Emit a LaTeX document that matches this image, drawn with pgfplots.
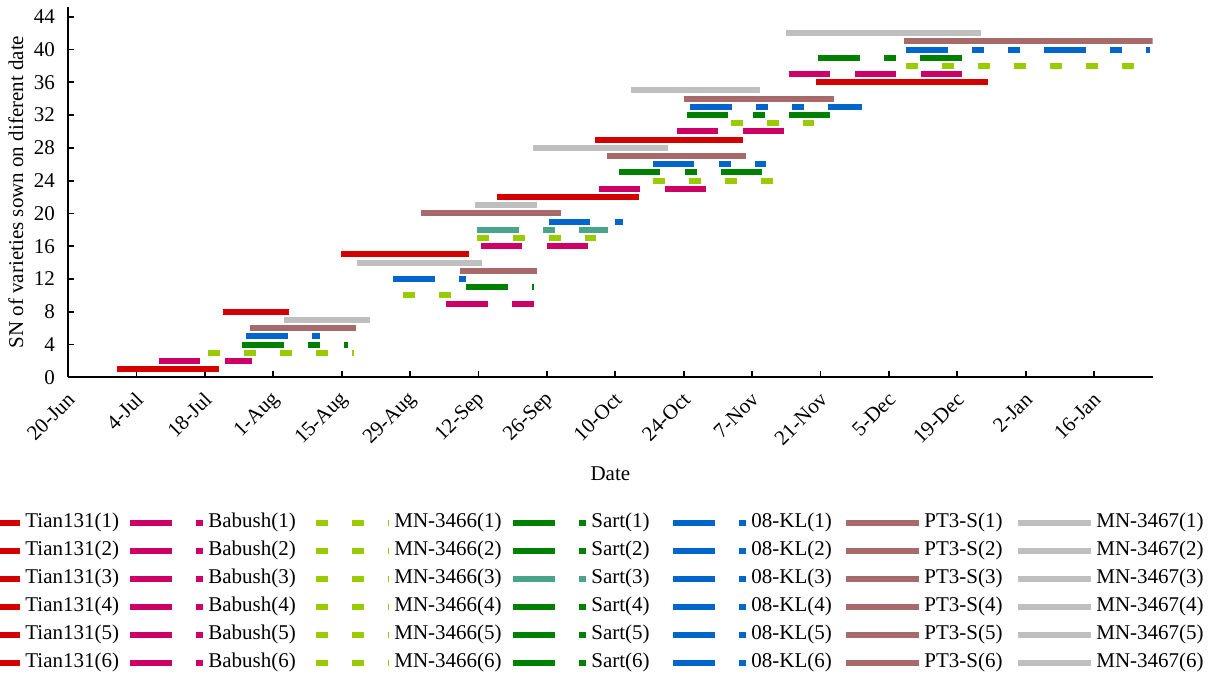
\documentclass[border=0pt]{standalone}
\usepackage{fontspec}
\setmainfont{Liberation Serif}
\usepackage{pgfplots}
\pgfplotsset{compat=1.18}
\definecolor{cTian}{RGB}{212,0,0}
\definecolor{cBab}{RGB}{204,0,102}
\definecolor{cMNa}{RGB}{153,204,0}
\definecolor{cSart}{RGB}{0,128,0}
\definecolor{cSartT}{RGB}{74,164,140}
\definecolor{cKL}{RGB}{0,102,204}
\definecolor{cPT}{RGB}{166,106,106}
\definecolor{cMNb}{RGB}{191,191,191}
\pgfplotsset{
  tian/.style={cTian, solid},
  bab/.style={cBab, dash pattern=on 20.8pt off 12.2pt},
  mna/.style={cMNa, dash pattern=on 6pt off 12pt},
  sart/.style={cSart, dash pattern=on 20.8pt off 12.2pt on 6pt off 12pt},
  kl/.style={cKL, dash pattern=on 20.8pt off 12.2pt on 6pt off 12pt on 6pt off 12pt},
  pt/.style={cPT, solid},
  mnb/.style={cMNb, solid},
}
\newcommand{\fs}{\fontsize{10.5}{12.6}\selectfont}
% legend text boxes of fixed width, so that the columns sit where the reference has them
\newcommand{\LE}[2]{\addlegendentry{\makebox[#1][l]{#2}}}
\begin{document}
\begin{tikzpicture}
\begin{axis}[
  at={(0,0)}, anchor=south west,
  scale only axis, width=542.35pt, height=185.2pt,
  xmin=0, xmax=222, ymin=0, ymax=45.2,
  axis x line*=bottom, axis y line*=left,
  axis line style={line width=0.9pt, black},
  tick style={line width=0.9pt, black},
  tick align=inside, major tick length=3pt,
  xtick={0,14,...,210},
  xticklabels={20-Jun,4-Jul,18-Jul,1-Aug,15-Aug,29-Aug,12-Sep,26-Sep,10-Oct,24-Oct,7-Nov,21-Nov,5-Dec,19-Dec,2-Jan,16-Jan},
  ytick={0,4,...,44},
  /pgf/number format/assume math mode=true,
  tick label style={font=\fs},
  yticklabel style={xshift=-3pt},
  xticklabel style={yshift=-7pt, xshift=4pt, rotate=45, anchor=east},
  label style={font=\fs},
  xlabel={Date},
  xlabel style={at={(axis description cs:0.5,-0.261)}, anchor=center},
  ylabel={SN of varieties sown on diferent date},
  ylabel style={at={(axis description cs:-0.048,0.5)}, anchor=center},
  no markers,
  every axis plot/.append style={line width=3pt},
  legend image code/.code={\draw[#1, line width=3pt] (0pt,0pt) -- (36.5pt,0pt);},
  legend columns=7,
  legend cell align=left,
  legend style={at={(0,0)}, anchor=north west, xshift=-62pt, yshift=-67.5pt,
    draw=none, fill=none, inner sep=0pt, column sep=1pt, row sep=4pt,
    font=\fs,
    nodes={inner xsep=0pt, inner ysep=0pt, text height=7.5pt, text depth=2.5pt}},
]
% sowing 1
\addplot[tian] coordinates {(10.1,1) (31.0,1)}; \LE{50pt}{Tian131(1)}
\addplot[bab] coordinates {(18.6,2) (37.7,2)}; \LE{51.5pt}{Babush(1)}
\addplot[mna] coordinates {(28.7,3) (58.5,3)}; \LE{57pt}{MN-3466(1)}
\addplot[sart] coordinates {(35.7,4) (57.4,4)}; \LE{38.5pt}{Sart(1)}
\addplot[kl] coordinates {(36.5,5) (51.6,5)}; \LE{45pt}{08-KL(1)}
\addplot[pt] coordinates {(37.3,6) (59.0,6)}; \LE{44.5pt}{PT3-S(1)}
\addplot[mnb] coordinates {(44.3,7) (61.9,7)}; \addlegendentry{MN-3467(1)}
% sowing 2
\addplot[tian] coordinates {(31.8,8) (45.3,8)}; \LE{50pt}{Tian131(2)}
\addplot[bab] coordinates {(77.4,9) (95.4,9)}; \LE{51.5pt}{Babush(2)}
\addplot[mna] coordinates {(68.5,10) (78.3,10)}; \LE{57pt}{MN-3466(2)}
\addplot[sart] coordinates {(81.5,11) (95.4,11)}; \LE{38.5pt}{Sart(2)}
\addplot[kl] coordinates {(66.5,12) (81.5,12)}; \LE{45pt}{08-KL(2)}
\addplot[pt] coordinates {(80.3,13) (95.9,13)}; \LE{44.5pt}{PT3-S(2)}
\addplot[mnb] coordinates {(59.1,14) (84.8,14)}; \addlegendentry{MN-3467(2)}
% sowing 3
\addplot[tian] coordinates {(55.9,15) (82.1,15)}; \LE{50pt}{Tian131(3)}
\addplot[bab] coordinates {(84.5,16) (106.5,16)}; \LE{51.5pt}{Babush(3)}
\addplot[mna] coordinates {(83.7,17) (108.1,17)}; \LE{57pt}{MN-3466(3)}
\addplot[sart, cSartT] coordinates {(83.7,18) (110.6,18)}; \LE{38.5pt}{Sart(3)}
\addplot[kl] coordinates {(98.4,19) (113.5,19)}; \LE{45pt}{08-KL(3)}
\addplot[pt] coordinates {(72.2,20) (100.8,20)}; \LE{44.5pt}{PT3-S(3)}
\addplot[mnb] coordinates {(83.2,21) (95.9,21)}; \addlegendentry{MN-3467(3)}
% sowing 4
\addplot[tian] coordinates {(87.9,22) (116.9,22)}; \LE{50pt}{Tian131(4)}
\addplot[bab] coordinates {(108.6,23) (130.6,23)}; \LE{51.5pt}{Babush(4)}
\addplot[mna] coordinates {(119.7,24) (144.2,24)}; \LE{57pt}{MN-3466(4)}
\addplot[sart] coordinates {(112.7,25) (142.1,25)}; \LE{38.5pt}{Sart(4)}
\addplot[kl] coordinates {(119.7,26) (142.9,26)}; \LE{45pt}{08-KL(4)}
\addplot[pt] coordinates {(110.3,27) (138.8,27)}; \LE{44.5pt}{PT3-S(4)}
\addplot[mnb] coordinates {(95.1,28) (122.9,28)}; \addlegendentry{MN-3467(4)}
% sowing 5
\addplot[tian] coordinates {(107.9,29) (138.2,29)}; \LE{50pt}{Tian131(5)}
\addplot[bab] coordinates {(124.6,30) (146.6,30)}; \LE{51.5pt}{Babush(5)}
\addplot[mna] coordinates {(135.6,31) (152.7,31)}; \LE{57pt}{MN-3466(5)}
\addplot[sart] coordinates {(126.6,32) (156.0,32)}; \LE{38.5pt}{Sart(5)}
\addplot[kl] coordinates {(127.4,33) (162.6,33)}; \LE{45pt}{08-KL(5)}
\addplot[pt] coordinates {(126.1,34) (156.8,34)}; \LE{44.5pt}{PT3-S(5)}
\addplot[mnb] coordinates {(115.2,35) (141.7,35)}; \addlegendentry{MN-3467(5)}
% sowing 6
\addplot[tian] coordinates {(153.0,36) (188.2,36)}; \LE{50pt}{Tian131(6)}
\addplot[bab] coordinates {(147.5,37) (183.0,37)}; \LE{51.5pt}{Babush(6)}
\addplot[mna] coordinates {(171.6,38) (218.2,38)}; \LE{57pt}{MN-3466(6)}
\addplot[sart] coordinates {(153.6,39) (183.0,39)}; \LE{38.5pt}{Sart(6)}
\addplot[kl] coordinates {(171.6,40) (221.5,40)}; \LE{45pt}{08-KL(6)}
\addplot[pt] coordinates {(171.2,41) (222.0,41)}; \LE{44.5pt}{PT3-S(6)}
\addplot[mnb] coordinates {(147.0,42) (186.8,42)}; \addlegendentry{MN-3467(6)}
\end{axis}
\pgfresetboundingbox
\path[use as bounding box] (-34pt,-153.35pt) rectangle (572pt,188.65pt);
\end{tikzpicture}
\end{document}
